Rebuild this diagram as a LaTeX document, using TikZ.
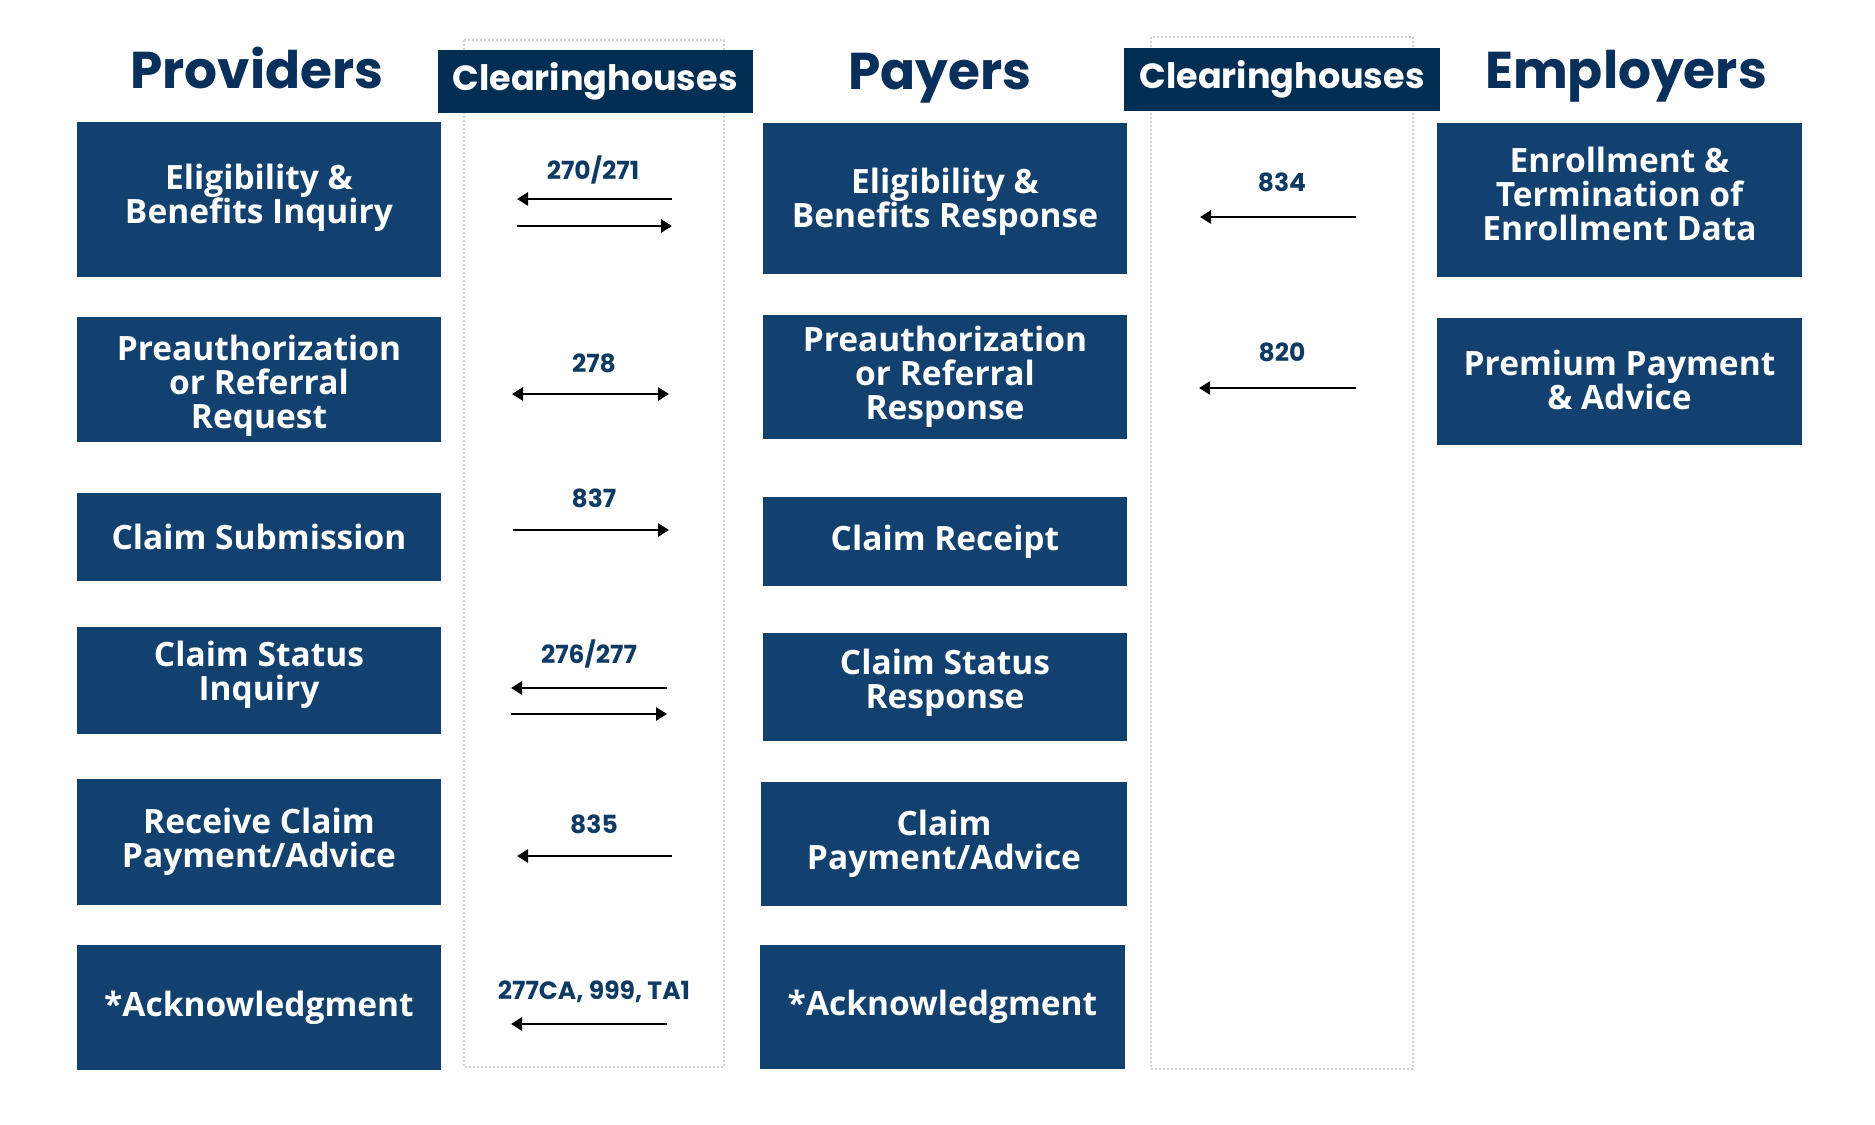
\documentclass[tikz,border=0pt]{standalone}
\usepackage{fontspec}
\setmainfont{Open Sans}
\newfontfamily\popfont{Poppins}
\usetikzlibrary{arrows.meta}
\definecolor{boxblue}{HTML}{12416F}
\definecolor{titleblue}{HTML}{08305A}
\definecolor{chblue}{HTML}{032E53}
\definecolor{labblue}{HTML}{0E3A64}
\definecolor{dotgray}{HTML}{D2D2D2}
\tikzset{
  pbox/.style={fill=boxblue, draw=none, inner sep=0pt},
  ptext/.style={inner sep=0pt, align=center, text=white,
    font=\fontsize{13.4}{13.6}\selectfont\bfseries},
  coltitle/.style={anchor=base, text=titleblue, inner sep=0pt,
    font=\popfont\fontsize{20.7}{24}\selectfont\bfseries},
  chbox/.style={fill=chblue, inner sep=0pt, text=white,
    font=\popfont\fontsize{14}{16}\selectfont\bfseries},
  codelab/.style={anchor=base, text=labblue, inner sep=0pt,
    font=\popfont\fontsize{10}{12}\selectfont\bfseries},
  flow/.style={line width=1.1pt, -{Triangle[length=4.4pt,width=5.2pt]}},
  flowboth/.style={line width=1.1pt, {Triangle[length=4.4pt,width=5.2pt]}-{Triangle[length=4.4pt,width=5.2pt]}},
  dotcol/.style={draw=dotgray, line width=0.7pt, dash pattern=on 0.8pt off 0.8pt}
}
\begin{document}
\begin{tikzpicture}[x=0.4pt,y=-0.4pt]
\useasboundingbox (0,0) rectangle (1875,1125);
% dotted clearinghouse columns
\draw[dotcol] (464,40) rectangle (724,1067);
\draw[dotcol] (1151,37) rectangle (1413,1069);
% titles
\node[coltitle] (tprov) at (257,89) {Providers};
\node[coltitle] (tpay) at (940,90) {Payers};
\node[coltitle] (temp) at (1626,89) {Employers};
\node[chbox, minimum width=126pt, minimum height=25.2pt] (ch1) at (595,81.5) {Clearinghouses};
\node[chbox, minimum width=126.4pt, minimum height=25.2pt] (ch2) at (1282,79.5) {Clearinghouses};
% providers
\node[pbox, minimum width=145.6pt, minimum height=62pt] (p1) at (259,199.5) {};
\node[pbox, minimum width=145.6pt, minimum height=50pt] (p2) at (259,379.5) {};
\node[pbox, minimum width=145.6pt, minimum height=35.2pt] (p3) at (259,537) {};
\node[pbox, minimum width=145.6pt, minimum height=42.8pt] (p4) at (259,680.5) {};
\node[pbox, minimum width=145.6pt, minimum height=50.4pt] (p5) at (259,842) {};
\node[pbox, minimum width=145.6pt, minimum height=50pt] (p6) at (259,1007.5) {};
\node[ptext] (p1t) at ([yshift=0.8pt]p1.center) {Eligibility \&\\Benefits Inquiry};
\node[ptext] (p2t) at ([yshift=-2.4pt]p2.center) {Preauthorization\\or Referral\\Request};
\node[ptext] (p3t) at (p3.center) {Claim Submission};
\node[ptext] (p4t) at ([yshift=2.4pt]p4.center) {Claim Status\\Inquiry};
\node[ptext] (p5t) at (p5.center) {Receive Claim\\Payment/Advice};
\node[ptext] (p6t) at (p6.center) {*Acknowledgment};
% payers
\node[pbox, minimum width=145.6pt, minimum height=60.4pt] (y1) at (945,198.5) {};
\node[pbox, minimum width=145.6pt, minimum height=49.6pt] (y2) at (945,377) {};
\node[pbox, minimum width=145.6pt, minimum height=35.6pt] (y3) at (945,541.5) {};
\node[pbox, minimum width=145.6pt, minimum height=43.2pt] (y4) at (945,687) {};
\node[pbox, minimum width=146.4pt, minimum height=49.6pt] (y5) at (944,844) {};
\node[pbox, minimum width=146pt, minimum height=49.6pt] (y6) at (942.5,1007) {};
\node[ptext] (y1t) at ([yshift=-1.2pt]y1.center) {Eligibility \&\\Benefits Response};
\node[ptext] (y2t) at (y2.center) {Preauthorization\\or Referral\\Response};
\node[ptext] (y3t) at (y3.center) {Claim Receipt};
\node[ptext] (y4t) at ([yshift=1.6pt]y4.center) {Claim Status\\Response};
\node[ptext] (y5t) at (y5.center) {Claim\\Payment/Advice};
\node[ptext] (y6t) at (y6.center) {*Acknowledgment};
% employers
\node[pbox, minimum width=146pt, minimum height=61.6pt] (e1) at (1619.5,200) {};
\node[pbox, minimum width=146pt, minimum height=50.8pt] (e2) at (1619.5,381.5) {};
\node[ptext] (e1t) at ([yshift=2.6pt]e1.center) {Enrollment \&\\Termination of\\Enrollment Data};
\node[ptext] (e2t) at ([yshift=0.6pt]e2.center) {Premium Payment\\\& Advice};
% code labels
\node[codelab] (l1) at (593,180) {270/271};
\node[codelab] (l2) at (594,373) {278};
\node[codelab] (l3) at (594,508) {837};
\node[codelab] (l4) at (589,663) {276/277};
\node[codelab] (l5) at (594,833) {835};
\node[codelab] (l6) at (594,999) {277CA, 999, TA1};
\node[codelab] (l7) at (1282,192) {834};
\node[codelab] (l8) at (1282,362) {820};
% arrow end points
\coordinate (a1l) at (517,199); \coordinate (a1r) at (672,199);
\coordinate (a2l) at (517,226); \coordinate (a2r) at (672,226);
\coordinate (a3l) at (512,394); \coordinate (a3r) at (669,394);
\coordinate (a4l) at (513,530); \coordinate (a4r) at (669,530);
\coordinate (a5l) at (511,688); \coordinate (a5r) at (667,688);
\coordinate (a6l) at (511,714); \coordinate (a6r) at (667,714);
\coordinate (a7l) at (517,856); \coordinate (a7r) at (672,856);
\coordinate (a8l) at (511,1024); \coordinate (a8r) at (667,1024);
\coordinate (b1l) at (1200,217); \coordinate (b1r) at (1356,217);
\coordinate (b2l) at (1199,388); \coordinate (b2r) at (1356,388);
% arrows
\draw[flow] (a1r) -- (a1l);
\draw[flow] (a2l) -- (a2r);
\draw[flowboth] (a3l) -- (a3r);
\draw[flow] (a4l) -- (a4r);
\draw[flow] (a5r) -- (a5l);
\draw[flow] (a6l) -- (a6r);
\draw[flow] (a7r) -- (a7l);
\draw[flow] (a8r) -- (a8l);
\draw[flow] (b1r) -- (b1l);
\draw[flow] (b2r) -- (b2l);
\end{tikzpicture}
\end{document}
